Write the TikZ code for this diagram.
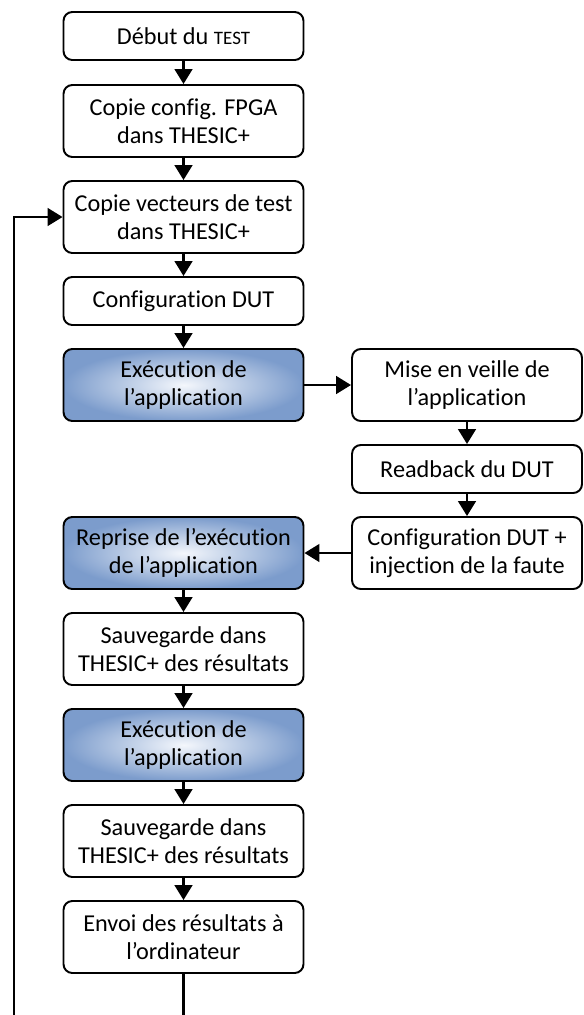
\documentclass[tikz,border=0pt]{standalone}
\usepackage{fontspec}
\setmainfont[Ligatures=NoCommon]{Carlito}
\usetikzlibrary{arrows.meta}

\definecolor{bleuBord}{RGB}{124,156,204}
\definecolor{bleuCentre}{RGB}{244,247,252}

\tikzset{
  etape/.style={draw,line width=1.1pt,rounded corners=5pt,minimum width=4.8cm,minimum height=1.44cm,align=center,inner sep=0pt,font=\fontsize{13.8}{16}\selectfont},
  courte/.style={minimum height=0.96cm},
  droite/.style={minimum width=4.6cm},
  execbox/.style={inner color=bleuCentre,outer color=bleuBord},
  fleche/.style={-{Triangle[width=10pt,length=8.5pt]},line width=1.5pt},
}

\begin{document}
\begin{tikzpicture}[x=0.02cm,y=-0.02cm]
\useasboundingbox (0,0) rectangle (583,1015);
\clip (0,0) rectangle (583,1015);
% colonne de gauche
\node[etape,courte] (debut) at (183.5,36) {Début du {\fontsize{10.8}{12}\selectfont TEST}};
\node[etape] (fpga) at (183.5,121) {Copie config. FPGA\\dans THESIC+};
\node[etape] (vect) at (183.5,217) {Copie vecteurs de test\\dans THESIC+};
\node[etape,courte] (confdut) at (183.5,301) {Configuration DUT};
\node[etape,execbox] (exec1) at (183.5,385) {Exécution de\\l’application};
% colonne de droite
\node[etape,droite] (veille) at (467,385) {Mise en veille de\\l’application};
\node[etape,droite,courte] (readback) at (467,469) {Readback du DUT};
\node[etape,droite] (injection) at (467,553) {Configuration DUT +\\injection de la faute};
% suite
\node[etape,execbox] (reprise) at (183.5,553) {Reprise de l’exécution\\de l’application};
\node[etape] (sauv1) at (183.5,649) {Sauvegarde dans\\THESIC+ des résultats};
\node[etape,execbox] (exec2) at (183.5,745) {Exécution de\\l’application};
\node[etape] (sauv2) at (183.5,841) {Sauvegarde dans\\THESIC+ des résultats};
\node[etape] (envoi) at (183.5,937) {Envoi des résultats à\\l’ordinateur};
\coordinate (retour) at (14,1035);

\draw[fleche](debut)--(fpga);
\draw[fleche](fpga)--(vect);
\draw[fleche](vect)--(confdut);
\draw[fleche](confdut)--(exec1);
\draw[fleche](exec1)--(veille);
\draw[fleche](veille)--(readback);
\draw[fleche](readback)--(injection);
\draw[fleche](injection)--(reprise);
\draw[fleche](reprise)--(sauv1);
\draw[fleche](sauv1)--(exec2);
\draw[fleche](exec2)--(sauv2);
\draw[fleche](sauv2)--(envoi);
\draw[fleche](envoi.south)|-(retour)|-(vect.west);
\end{tikzpicture}
\end{document}
